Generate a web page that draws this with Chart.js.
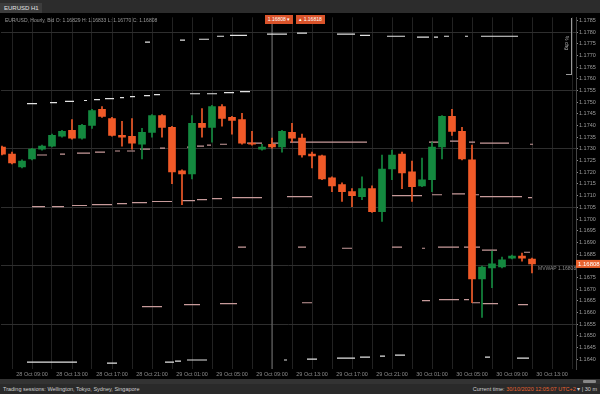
<!DOCTYPE html>
<html>
<head>
<meta charset="utf-8">
<script src="https://cdn.jsdelivr.net/npm/chart.js@4.4.1/dist/chart.umd.min.js"></script>
<style>
html, body { margin: 0; padding: 0; width: 600px; height: 394px; overflow: hidden; background: #262626; font-family: "Liberation Sans", Arial, sans-serif; }
#topbar { position: absolute; left: 0; top: 0; width: 600px; height: 13px; background: #2c2c2c; }
#tab { position: absolute; left: 0; top: 3px; width: 38px; height: 10px; background: #3c3c3c; color: #e0e0e0; font-size: 6px; line-height: 10px; padding-left: 4px; white-space: nowrap; overflow: hidden; }
#frame { position: absolute; left: 0; top: 13px; width: 600px; height: 366px; background: #000; }
#info { position: absolute; left: 5px; top: 17px; color: #9a9a9a; font-size: 5px; white-space: nowrap; }
.btn { position: absolute; top: 15px; height: 9px; background: #d9532a; color: #fff; font-size: 5px; line-height: 9px; text-align: center; }
#bracket { position: absolute; left: 571px; top: 18px; width: 1px; height: 57px; background: #9a9a9a; }
#bracketFoot { position: absolute; left: 566px; top: 74px; width: 5px; height: 1px; background: #9a9a9a; }
#pct { position: absolute; left: 560px; top: 40px; color: #bbb; font-size: 5px; transform: rotate(90deg); }
#scroll { position: absolute; left: 0; top: 379px; width: 600px; height: 5px; background: #333; }
#thumb { position: absolute; left: 583px; top: 380px; width: 13px; height: 3px; background: #888; border-radius: 1px; }
#status { position: absolute; left: 0; top: 384px; width: 600px; height: 10px; background: #2a2a2a; color: #cfcfcf; font-size: 5.5px; line-height: 10px; }
#status .l { position: absolute; left: 3px; }
#status .r { position: absolute; right: 3px; }
#status .o { color: #e8622e; }
</style>
</head>
<body>
<div id="topbar"><div id="tab">EURUSD H1</div></div>
<div id="frame"><canvas id="myChart" width="600" height="366"></canvas></div>
<div id="info">EUR/USD, Hourly, Bid  O: 1.16829  H: 1.16833  L: 1.16770  C: 1.16808</div>
<div class="btn" style="left:265px;width:28px;">1.16808 ▾</div>
<div class="btn" style="left:296px;width:29px;">▴ 1.16818</div>
<div id="bracket"></div><div id="bracketFoot"></div><div id="pct">% chg</div>
<div id="scroll"></div><div id="thumb"></div>
<div id="status">
  <span class="l">Trading sessions: Wellington, Tokyo, Sydney, Singapore</span>
  <span class="r">Current time: <span class="o">30/10/2020 12:05:07</span> <span class="o">UTC+2</span> ▾ | 30 m</span>
</div>

<script>
"use strict";

// candles, 1 hour each
const openP = [1.17308,1.17278,1.17223,1.17257,1.17299,1.17312,1.17354,1.17380,1.17346,1.17401,
  1.17469,1.17430,1.17358,1.17354,1.17320,1.17371,1.17443,1.17392,1.17206,1.17193,
  1.17409,1.17392,1.17481,1.17435,1.17426,1.17325,1.17299,1.17320,1.17308,1.17371,
  1.17346,1.17278,1.17270,1.17176,1.17147,1.17117,1.17096,1.17130,1.17032,1.17214,
  1.17278,1.17202,1.17142,1.17168,1.17308,1.17439,1.17375,1.17253,1.16744,1.16791,
  1.16795,1.16833,1.16842,1.16829];
const highP = [1.17312,1.17286,1.17253,1.17303,1.17316,1.17363,1.17380,1.17426,1.17405,1.17469,
  1.17481,1.17435,1.17418,1.17430,1.17388,1.17447,1.17447,1.17397,1.17210,1.17443,
  1.17473,1.17486,1.17490,1.17439,1.17452,1.17375,1.17320,1.17346,1.17380,1.17409,
  1.17363,1.17286,1.17274,1.17181,1.17155,1.17130,1.17181,1.17142,1.17274,1.17295,
  1.17286,1.17248,1.17261,1.17329,1.17443,1.17469,1.17392,1.17316,1.16799,1.16863,
  1.16837,1.16846,1.16854,1.16833];
const lowP = [1.17274,1.17236,1.17219,1.17253,1.17295,1.17308,1.17350,1.17342,1.17342,1.17388,
  1.17435,1.17354,1.17312,1.17299,1.17257,1.17350,1.17350,1.17151,1.17062,1.17172,
  1.17350,1.17329,1.17397,1.17363,1.17320,1.17316,1.17295,1.17303,1.17286,1.17329,
  1.17265,1.17219,1.17168,1.17117,1.17075,1.17053,1.17083,1.17028,1.16990,1.17168,
  1.17130,1.17075,1.17138,1.17117,1.17257,1.17358,1.17253,1.16642,1.16579,1.16706,
  1.16791,1.16829,1.16820,1.16770];
const closeP = [1.17278,1.17240,1.17248,1.17299,1.17312,1.17358,1.17375,1.17346,1.17401,1.17464,
  1.17439,1.17358,1.17350,1.17325,1.17371,1.17443,1.17392,1.17202,1.17193,1.17409,
  1.17392,1.17481,1.17430,1.17422,1.17325,1.17320,1.17308,1.17308,1.17375,1.17346,
  1.17274,1.17270,1.17172,1.17142,1.17117,1.17100,1.17130,1.17032,1.17214,1.17274,
  1.17197,1.17138,1.17168,1.17308,1.17439,1.17375,1.17257,1.16744,1.16795,1.16808,
  1.16825,1.16842,1.16833,1.16808];

// price axis and time axis labels
const priceTicks = [1.1785,1.1780,1.1775,1.1770,1.1765,1.1760,1.1755,1.1750,1.1745,1.1740,
  1.1735,1.1730,1.1725,1.1720,1.1715,1.1710,1.1705,1.1700,1.1695,1.1690,
  1.1685,1.1680,1.1675,1.1670,1.1665,1.1660,1.1655,1.1650,1.1645,1.1640];
const timeLabels = ["28 Oct 09:00","28 Oct 13:00","28 Oct 17:00","28 Oct 21:00","29 Oct 01:00",
  "29 Oct 05:00","29 Oct 09:00","29 Oct 13:00","29 Oct 17:00","29 Oct 21:00",
  "30 Oct 01:00","30 Oct 05:00","30 Oct 09:00","30 Oct 13:00"];
const crosshairAt = 27;

// horizontal level marks (start bar, end bar, price)
const whiteStart = [14.3,17.8,19.7,21.5,22.8,26.5,29.5,33.5,35.8,38.5,41.5,43.2,44.2,46.3,47.9,
  2.5,4.8,6.3,8.2,9.2,10.3,11.8,12.8,14.2,15.2,18.8,20.5,22.2,23.8,
  2.5,10.5,16.3,17.3,18.5,28.2,30.5,33.5,35.8,37.8,39.3,48.3,51.5];
const whiteEnd = [14.8,18.3,20.7,22.2,24.5,28.5,30.5,35.3,36.8,40.3,42.7,43.6,44.7,46.6,51.6,
  3.5,5.5,7.2,8.5,9.8,11.2,12.2,13.3,14.8,15.8,19.8,21.5,23.2,24.8,
  7.5,11.5,17.2,17.9,20.5,28.5,31.5,35.3,36.8,38.3,40.3,48.8,52.7];
const whitePrice = [1.17757,1.17765,1.17769,1.17782,1.17786,1.17791,1.17795,1.17791,1.17786,1.17782,1.17778,1.17778,1.17782,1.17782,1.17782,
  1.17494,1.17498,1.17503,1.17507,1.17511,1.17515,1.17519,1.17524,1.17528,1.17532,1.17536,1.17536,1.17541,1.17545,
  1.16388,1.16384,1.16388,1.16392,1.16397,1.16397,1.16401,1.16405,1.16409,1.16414,1.16418,1.16409,1.16405];

const pinkStart = [3.5,5.8,7.5,9.3,11.3,12.5,13.8,15.8,18.5,19.5,20.5,21.8,24.5,27.0,28.8,42.7,44.8,46.7,47.8,52.8,
  3.0,5.0,7.0,9.0,11.5,13.0,15.0,18.0,19.5,21.0,23.0,28.5,39.0,43.0,45.0,46.7,47.8,52.6,
  23.6,29.6,34.0,39.0,42.0,43.6,46.2,48.0,52.2,
  14.0,18.2,21.8,30.0,42.0,43.7,46.2,47.0,48.0,51.6];
const pinkEnd = [4.5,6.3,8.8,10.3,11.8,13.3,14.8,16.3,19.0,20.2,20.9,22.5,26.0,28.2,36.5,43.8,46.2,47.3,50.7,53.1,
  4.3,6.2,8.5,11.0,12.5,14.5,17.0,19.3,20.5,22.0,26.0,31.0,42.0,44.0,46.3,47.7,52.0,53.0,
  24.4,30.4,35.0,40.0,42.3,45.7,47.8,49.5,52.8,
  16.0,19.8,23.5,31.0,42.8,45.7,46.7,47.8,49.6,52.6];
const pinkPrice = [1.17274,1.17278,1.17282,1.17286,1.17291,1.17291,1.17299,1.17303,1.17308,1.17312,1.17316,1.17320,1.17325,1.17325,1.17329,1.17329,1.17333,1.17329,1.17325,1.17320,
  1.17053,1.17053,1.17058,1.17062,1.17066,1.17070,1.17075,1.17079,1.17083,1.17087,1.17092,1.17096,1.17100,1.17104,1.17108,1.17104,1.17096,1.17092,
  1.16880,1.16880,1.16875,1.16880,1.16875,1.16880,1.16880,1.16867,1.16858,
  1.16625,1.16634,1.16638,1.16642,1.16651,1.16655,1.16655,1.16642,1.16638,1.16634];

const up = '#14893f';
const down = '#f05a28';

function segments (starts, ends, prices) {
  const pts = [];
  for (let i = 0; i < starts.length; i++) {
    pts.push({x: starts[i], y: prices[i]}, {x: ends[i], y: prices[i]}, {x: ends[i], y: null});
  }
  return pts;
}

const bodies = openP.map((o, i) => ({x: i, y: [o, closeP[i]]}));
const wicks = openP.map((o, i) => ({x: i, y: [lowP[i], highP[i]]}));
const colors = openP.map((o, i) => closeP[i] >= o ? up : down);

const yMin = 1.163585, yMax = 1.17863;

const lastPrice = {
  id: 'lastPrice',
  afterDraw (chart) {
    const c = chart.ctx;
    const ys = chart.scales.y, xs = chart.scales.x;
    const last = closeP[closeP.length - 1];
    const py = ys.getPixelForValue(last);
    c.save();
    c.fillStyle = '#e8622e';
    c.fillRect(ys.left, py - 4, 24, 8);
    c.fillStyle = '#fff';
    c.font = '6px "Liberation Sans"';
    c.textBaseline = 'middle';
    c.fillText(last.toFixed(5), ys.left + 2, py);
    c.fillStyle = '#8a8a8a';
    c.font = '5px "Liberation Sans"';
    c.fillText('MVWAP ' + last.toFixed(5), xs.getPixelForValue(closeP.length - 1) + 6, py + 5);
    c.restore();
  }
};

new Chart(document.getElementById('myChart'), {
  type: 'bar',
  data: {
    datasets: [
      { type: 'line', data: [{x: crosshairAt, y: yMin}, {x: crosshairAt, y: yMax}], borderColor: '#6e6e6e', borderWidth: 1, pointRadius: 0, order: 5 },
      { type: 'line', data: segments(pinkStart, pinkEnd, pinkPrice), borderColor: '#c79a9a', borderWidth: 1.2, pointRadius: 0, spanGaps: false, order: 4 },
      { type: 'line', data: segments(whiteStart, whiteEnd, whitePrice), borderColor: '#e2e2e2', borderWidth: 1.2, pointRadius: 0, spanGaps: false, order: 3 },
      { data: wicks, backgroundColor: colors, barThickness: 1, grouped: false, order: 2 },
      { data: bodies, backgroundColor: colors, barThickness: 7, minBarLength: 1, grouped: false, order: 1 }
    ]
  },
  options: {
    responsive: false,
    animation: false,
    devicePixelRatio: 1,
    layout: { padding: { top: 1, left: 1, right: 0, bottom: 0 } },
    plugins: { legend: { display: false }, tooltip: { enabled: false } },
    scales: {
      x: {
        type: 'linear', min: -0.1, max: 57.4, offset: false,
        grid: { color: '#222222', offset: false, drawTicks: false },
        border: { display: false },
        afterBuildTicks: (s) => {
          const t = [];
          for (let v = 1; v <= 57; v += 2) t.push({value: v});
          s.ticks = t;
        },
        afterFit: (s) => { s.height = 10; },
        ticks: {
          autoSkip: false, maxRotation: 0, padding: 2, color: '#8c8c8c',
          font: { size: 5.5, family: 'Liberation Sans' },
          callback: (v) => ((v - 3) % 4 === 0 ? timeLabels[(v - 3) / 4] : '')
        }
      },
      y: {
        position: 'right', min: yMin, max: yMax, beginAtZero: false,
        grid: {
          color: (c) => (c.index % 5 === 1 ? '#2e2e2e' : 'rgba(0,0,0,0)'),
          tickColor: '#8a8a8a', tickLength: 2
        },
        border: { color: '#454545' },
        afterBuildTicks: (s) => { s.ticks = priceTicks.map(v => ({value: v})); },
        afterFit: (s) => { s.width = 24; },
        ticks: {
          autoSkip: false, padding: 1, color: '#9c9c9c',
          font: { size: 5.5, family: 'Liberation Sans' },
          callback: (v) => v.toFixed(4)
        }
      }
    }
  },
  plugins: [lastPrice]
});
</script>
</body>
</html>
